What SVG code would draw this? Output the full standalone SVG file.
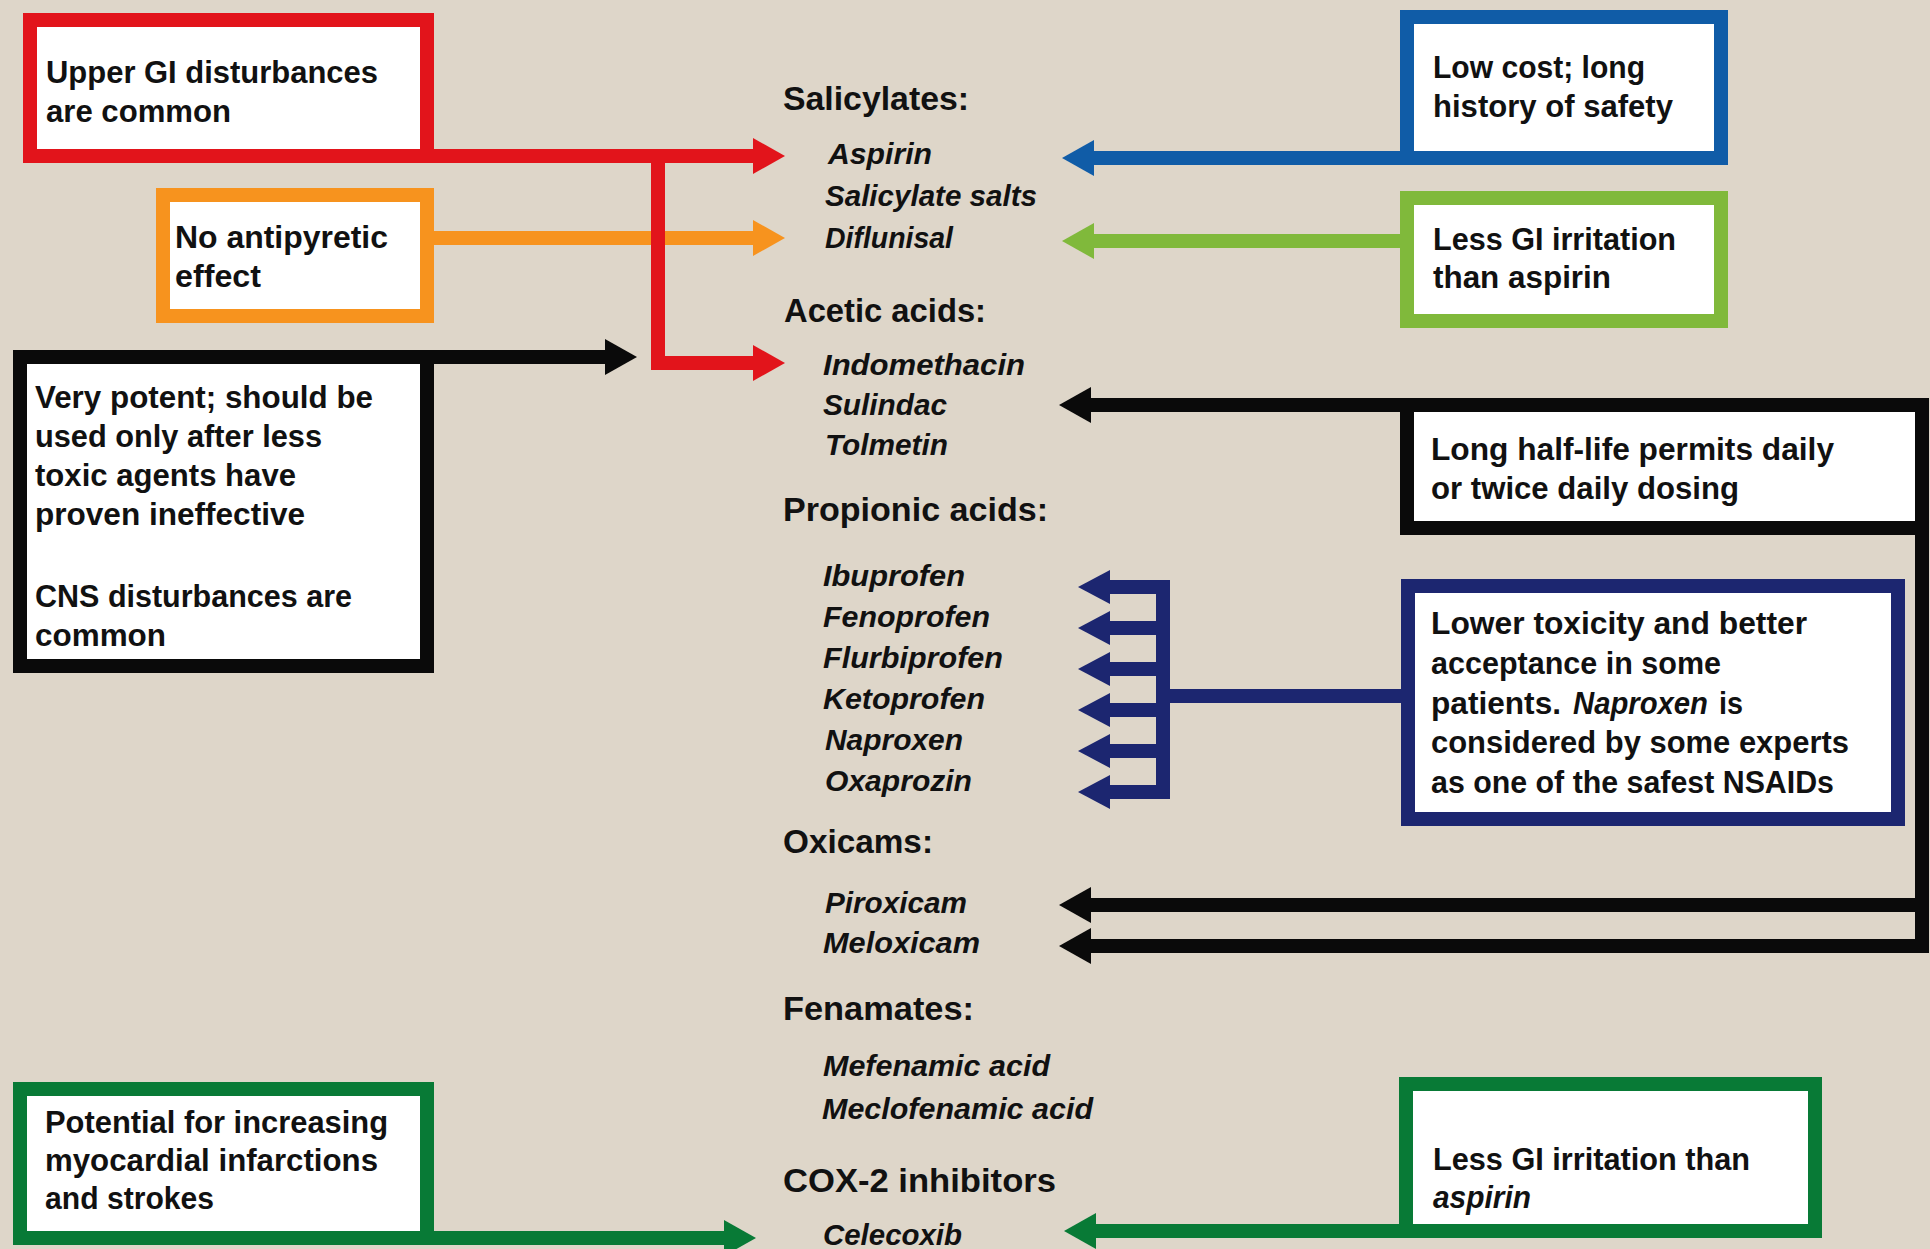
<svg xmlns="http://www.w3.org/2000/svg" width="1930" height="1249" viewBox="0 0 1930 1249">
<style>
text{font-family:"Liberation Sans",Arial,sans-serif;font-weight:bold;fill:#111;}
.box{font-size:32px;}
.hd{font-size:34px;}
.it{font-size:30px;font-style:italic;}
.em{font-style:italic;}
.node rect{fill:#fff;stroke-width:14;}
.con path{fill:none;stroke-width:14;stroke-linejoin:miter;}
</style>
<defs>
<marker id="mRed" viewBox="0 0 32 36" refX="1" refY="18" markerWidth="32" markerHeight="36" markerUnits="userSpaceOnUse" orient="auto"><path d="M0,0 L32,18 L0,36 z" fill="#e2141b"/></marker>
<marker id="mOrange" viewBox="0 0 32 36" refX="1" refY="18" markerWidth="32" markerHeight="36" markerUnits="userSpaceOnUse" orient="auto"><path d="M0,0 L32,18 L0,36 z" fill="#f7931e"/></marker>
<marker id="mBlack" viewBox="0 0 32 36" refX="1" refY="18" markerWidth="32" markerHeight="36" markerUnits="userSpaceOnUse" orient="auto"><path d="M0,0 L32,18 L0,36 z" fill="#0a0a0a"/></marker>
<marker id="mBlue" viewBox="0 0 32 36" refX="1" refY="18" markerWidth="32" markerHeight="36" markerUnits="userSpaceOnUse" orient="auto"><path d="M0,0 L32,18 L0,36 z" fill="#105ca7"/></marker>
<marker id="mLime" viewBox="0 0 32 36" refX="1" refY="18" markerWidth="32" markerHeight="36" markerUnits="userSpaceOnUse" orient="auto"><path d="M0,0 L32,18 L0,36 z" fill="#80b93b"/></marker>
<marker id="mNavy" viewBox="0 0 32 34" refX="1" refY="17" markerWidth="32" markerHeight="34" markerUnits="userSpaceOnUse" orient="auto"><path d="M0,0 L32,17 L0,34 z" fill="#1c2670"/></marker>
<marker id="mGreen" viewBox="0 0 32 36" refX="1" refY="18" markerWidth="32" markerHeight="36" markerUnits="userSpaceOnUse" orient="auto"><path d="M0,0 L32,18 L0,36 z" fill="#087a36"/></marker>
</defs>
<rect x="0" y="0" width="1930" height="1249" fill="#ded6c9"/>

<g id="connectors" class="con">
<path d="M430 156 H754" stroke="#e2141b" marker-end="url(#mRed)"/>
<path d="M430 238 H754" stroke="#f7931e" marker-end="url(#mOrange)"/>
<path d="M658 156 V363 H754" stroke="#e2141b" marker-end="url(#mRed)"/>
<path d="M430 357 H606" stroke="#0a0a0a" marker-end="url(#mBlack)"/>
<path d="M1407 158 H1093" stroke="#105ca7" marker-end="url(#mBlue)"/>
<path d="M1407 241 H1093" stroke="#80b93b" marker-end="url(#mLime)"/>
<path d="M1922 398 V953" stroke="#0a0a0a"/>
<path d="M1922 405 H1090" stroke="#0a0a0a" marker-end="url(#mBlack)"/>
<path d="M1922 905 H1090" stroke="#0a0a0a" marker-end="url(#mBlack)"/>
<path d="M1922 946 H1090" stroke="#0a0a0a" marker-end="url(#mBlack)"/>
<path d="M1408 696 H1163" stroke="#1c2670"/>
<path d="M1163 580 V799" stroke="#1c2670" stroke-width="15"/>
<path d="M1170 587 H1109" stroke="#1c2670" stroke-width="12" marker-end="url(#mNavy)"/>
<path d="M1170 628 H1109" stroke="#1c2670" stroke-width="12" marker-end="url(#mNavy)"/>
<path d="M1170 669 H1109" stroke="#1c2670" stroke-width="12" marker-end="url(#mNavy)"/>
<path d="M1170 710 H1109" stroke="#1c2670" stroke-width="12" marker-end="url(#mNavy)"/>
<path d="M1170 751 H1109" stroke="#1c2670" stroke-width="12" marker-end="url(#mNavy)"/>
<path d="M1170 792 H1109" stroke="#1c2670" stroke-width="12" marker-end="url(#mNavy)"/>
<path d="M430 1238 H725" stroke="#087a36" marker-end="url(#mGreen)"/>
<path d="M1406 1231 H1095" stroke="#087a36" marker-end="url(#mGreen)"/>
</g>

<g id="node-upper-gi" class="node">
<rect x="30" y="20" width="397" height="136" stroke="#e2141b"/>
<text class="box" x="46" y="83" textLength="332" lengthAdjust="spacingAndGlyphs">Upper GI disturbances</text>
<text class="box" x="46" y="122" textLength="185" lengthAdjust="spacingAndGlyphs">are common</text>
</g>

<g id="node-no-antipyretic" class="node">
<rect x="163" y="195" width="264" height="121" stroke="#f7931e"/>
<text class="box" x="175" y="248" textLength="213" lengthAdjust="spacingAndGlyphs">No antipyretic</text>
<text class="box" x="175" y="287" textLength="86" lengthAdjust="spacingAndGlyphs">effect</text>
</g>

<g id="node-very-potent" class="node">
<rect x="20" y="357" width="407" height="309" stroke="#0a0a0a"/>
<text class="box" x="35" y="408" textLength="338" lengthAdjust="spacingAndGlyphs">Very potent; should be</text>
<text class="box" x="35" y="447" textLength="287" lengthAdjust="spacingAndGlyphs">used only after less</text>
<text class="box" x="35" y="486" textLength="261" lengthAdjust="spacingAndGlyphs">toxic agents have</text>
<text class="box" x="35" y="525" textLength="270" lengthAdjust="spacingAndGlyphs">proven ineffective</text>
<text class="box" x="35" y="607" textLength="317" lengthAdjust="spacingAndGlyphs">CNS disturbances are</text>
<text class="box" x="35" y="646" textLength="131" lengthAdjust="spacingAndGlyphs">common</text>
</g>

<g id="node-potential-mi" class="node">
<rect x="20" y="1089" width="407" height="149" stroke="#087a36"/>
<text class="box" x="45" y="1133" textLength="343" lengthAdjust="spacingAndGlyphs">Potential for increasing</text>
<text class="box" x="45" y="1171" textLength="333" lengthAdjust="spacingAndGlyphs">myocardial infarctions</text>
<text class="box" x="45" y="1209" textLength="169" lengthAdjust="spacingAndGlyphs">and strokes</text>
</g>

<g id="node-low-cost" class="node">
<rect x="1407" y="17" width="314" height="141" stroke="#105ca7"/>
<text class="box" x="1433" y="78" textLength="212" lengthAdjust="spacingAndGlyphs">Low cost; long</text>
<text class="box" x="1433" y="117" textLength="240" lengthAdjust="spacingAndGlyphs">history of safety</text>
</g>

<g id="node-less-gi-1" class="node">
<rect x="1407" y="198" width="314" height="123" stroke="#80b93b"/>
<text class="box" x="1433" y="250" textLength="243" lengthAdjust="spacingAndGlyphs">Less GI irritation</text>
<text class="box" x="1433" y="288" textLength="178" lengthAdjust="spacingAndGlyphs">than aspirin</text>
</g>

<g id="node-long-half-life" class="node">
<rect x="1407" y="405" width="515" height="123" stroke="#0a0a0a"/>
<text class="box" x="1431" y="460" textLength="403" lengthAdjust="spacingAndGlyphs">Long half-life permits daily</text>
<text class="box" x="1431" y="499" textLength="308" lengthAdjust="spacingAndGlyphs">or twice daily dosing</text>
</g>

<g id="node-lower-toxicity" class="node">
<rect x="1408" y="586" width="490" height="233" stroke="#1c2670"/>
<text class="box" x="1431" y="634" textLength="376" lengthAdjust="spacingAndGlyphs">Lower toxicity and better</text>
<text class="box" x="1431" y="674" textLength="290" lengthAdjust="spacingAndGlyphs">acceptance in some</text>
<text class="box" x="1431" y="714" textLength="130" lengthAdjust="spacingAndGlyphs">patients.</text>
<text class="box em" x="1573" y="714" textLength="135" lengthAdjust="spacingAndGlyphs">Naproxen</text>
<text class="box" x="1719" y="714" textLength="24" lengthAdjust="spacingAndGlyphs">is</text>
<text class="box" x="1431" y="753" textLength="418" lengthAdjust="spacingAndGlyphs">considered by some experts</text>
<text class="box" x="1431" y="793" textLength="403" lengthAdjust="spacingAndGlyphs">as one of the safest NSAIDs</text>
</g>

<g id="node-less-gi-2" class="node">
<rect x="1406" y="1084" width="409" height="147" stroke="#087a36"/>
<text class="box" x="1433" y="1170" textLength="317" lengthAdjust="spacingAndGlyphs">Less GI irritation than</text>
<text class="box em" x="1433" y="1208" textLength="98" lengthAdjust="spacingAndGlyphs">aspirin</text>
</g>

<g id="node-drug-list">
<text class="hd" x="783" y="110" textLength="186" lengthAdjust="spacingAndGlyphs">Salicylates:</text>
<text class="it" x="828" y="164" textLength="104" lengthAdjust="spacingAndGlyphs">Aspirin</text>
<text class="it" x="825" y="206" textLength="212" lengthAdjust="spacingAndGlyphs">Salicylate salts</text>
<text class="it" x="825" y="248" textLength="128" lengthAdjust="spacingAndGlyphs">Diflunisal</text>
<text class="hd" x="784" y="322" textLength="202" lengthAdjust="spacingAndGlyphs">Acetic acids:</text>
<text class="it" x="823" y="375" textLength="202" lengthAdjust="spacingAndGlyphs">Indomethacin</text>
<text class="it" x="823" y="415" textLength="124" lengthAdjust="spacingAndGlyphs">Sulindac</text>
<text class="it" x="825" y="455" textLength="123" lengthAdjust="spacingAndGlyphs">Tolmetin</text>
<text class="hd" x="783" y="521" textLength="265" lengthAdjust="spacingAndGlyphs">Propionic acids:</text>
<text class="it" x="823" y="586" textLength="142" lengthAdjust="spacingAndGlyphs">Ibuprofen</text>
<text class="it" x="823" y="627" textLength="167" lengthAdjust="spacingAndGlyphs">Fenoprofen</text>
<text class="it" x="823" y="668" textLength="180" lengthAdjust="spacingAndGlyphs">Flurbiprofen</text>
<text class="it" x="823" y="709" textLength="162" lengthAdjust="spacingAndGlyphs">Ketoprofen</text>
<text class="it" x="825" y="750" textLength="138" lengthAdjust="spacingAndGlyphs">Naproxen</text>
<text class="it" x="825" y="791" textLength="147" lengthAdjust="spacingAndGlyphs">Oxaprozin</text>
<text class="hd" x="783" y="853" textLength="150" lengthAdjust="spacingAndGlyphs">Oxicams:</text>
<text class="it" x="825" y="913" textLength="142" lengthAdjust="spacingAndGlyphs">Piroxicam</text>
<text class="it" x="823" y="953" textLength="157" lengthAdjust="spacingAndGlyphs">Meloxicam</text>
<text class="hd" x="783" y="1020" textLength="191" lengthAdjust="spacingAndGlyphs">Fenamates:</text>
<text class="it" x="823" y="1076" textLength="227" lengthAdjust="spacingAndGlyphs">Mefenamic acid</text>
<text class="it" x="822" y="1119" textLength="271" lengthAdjust="spacingAndGlyphs">Meclofenamic acid</text>
<text class="hd" x="783" y="1192" textLength="273" lengthAdjust="spacingAndGlyphs">COX-2 inhibitors</text>
<text class="it" x="823" y="1245" textLength="139" lengthAdjust="spacingAndGlyphs">Celecoxib</text>
</g>
</svg>
